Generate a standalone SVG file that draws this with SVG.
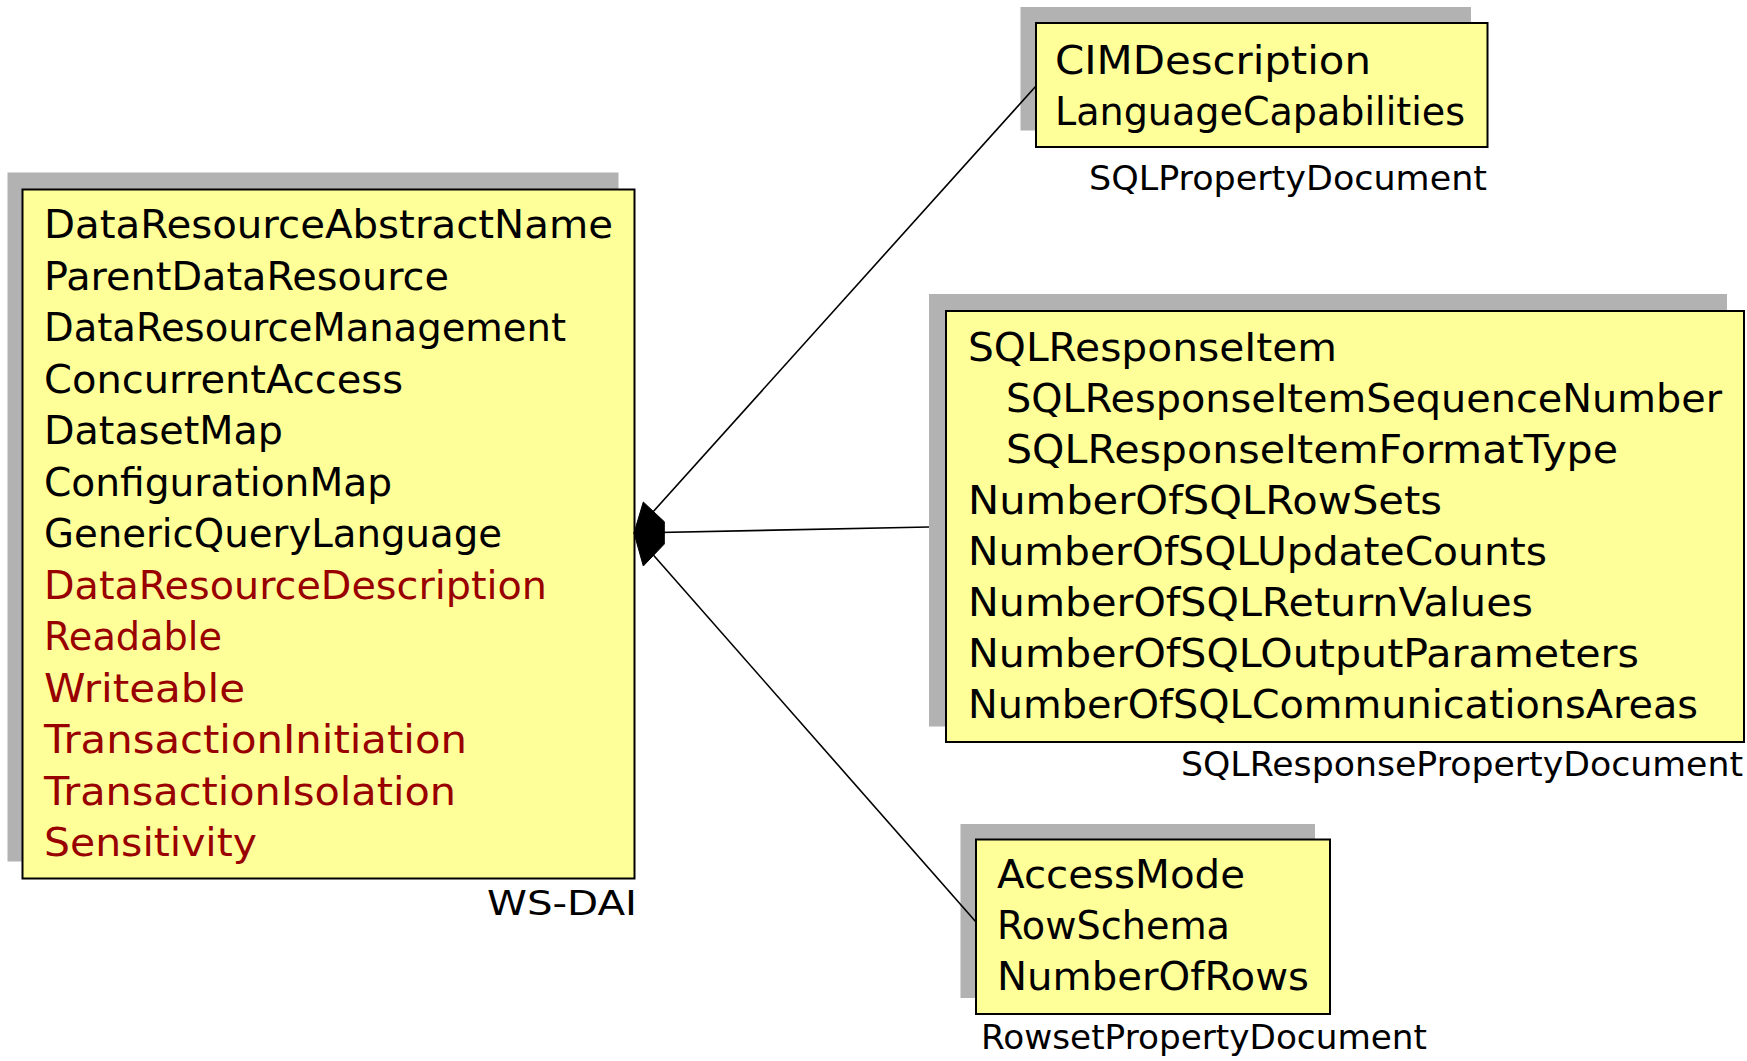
<svg xmlns="http://www.w3.org/2000/svg" width="1747" height="1061" viewBox="0 0 1747 1061">
<style>
.shadow{fill:#b2b2b2;stroke:none}
.box{fill:#ffff99;stroke:#000;stroke-width:2}
.t{font-family:"DejaVu Sans","Liberation Sans",sans-serif;font-size:39px;fill:#000}
.r{fill:#990000}
.lbl{font-family:"DejaVu Sans","Liberation Sans",sans-serif;font-size:33px;fill:#000}
.conn{stroke:#000;stroke-width:1.6;fill:none}
</style>
<rect width="1747" height="1061" fill="#fff"/>
<g id="ws-dai">
<rect class="shadow" x="7.5" y="172.5" width="611" height="689"/>
<rect class="box" x="22.5" y="189.5" width="612" height="689"/>
<text class="t" x="44" y="238" textLength="569" lengthAdjust="spacingAndGlyphs">DataResourceAbstractName</text>
<text class="t" x="44" y="289.5" textLength="405" lengthAdjust="spacingAndGlyphs">ParentDataResource</text>
<text class="t" x="44" y="341" textLength="522" lengthAdjust="spacingAndGlyphs">DataResourceManagement</text>
<text class="t" x="44" y="392.5" textLength="359" lengthAdjust="spacingAndGlyphs">ConcurrentAccess</text>
<text class="t" x="44" y="444" textLength="239" lengthAdjust="spacingAndGlyphs">DatasetMap</text>
<text class="t" x="44" y="495.5" textLength="348" lengthAdjust="spacingAndGlyphs">ConfigurationMap</text>
<text class="t" x="44" y="547" textLength="458" lengthAdjust="spacingAndGlyphs">GenericQueryLanguage</text>
<text class="t r" x="44" y="598.5" textLength="503" lengthAdjust="spacingAndGlyphs">DataResourceDescription</text>
<text class="t r" x="44" y="650" textLength="178" lengthAdjust="spacingAndGlyphs">Readable</text>
<text class="t r" x="44" y="701.5" textLength="201" lengthAdjust="spacingAndGlyphs">Writeable</text>
<text class="t r" x="44" y="753" textLength="423" lengthAdjust="spacingAndGlyphs">TransactionInitiation</text>
<text class="t r" x="44" y="804.5" textLength="412" lengthAdjust="spacingAndGlyphs">TransactionIsolation</text>
<text class="t r" x="44" y="856" textLength="213" lengthAdjust="spacingAndGlyphs">Sensitivity</text>
<text class="lbl" x="487" y="915" textLength="150" lengthAdjust="spacingAndGlyphs">WS-DAI</text>
</g>
<g id="sql-property-document">
<rect class="shadow" x="1020.5" y="7" width="450.5" height="123.5"/>
<rect class="box" x="1036" y="23" width="451.5" height="124"/>
<text class="t" x="1055" y="74" textLength="316" lengthAdjust="spacingAndGlyphs">CIMDescription</text>
<text class="t" x="1055" y="125" textLength="410" lengthAdjust="spacingAndGlyphs">LanguageCapabilities</text>
<text class="lbl" x="1089" y="190" textLength="398" lengthAdjust="spacingAndGlyphs">SQLPropertyDocument</text>
</g>
<g id="sql-response-property-document">
<rect class="shadow" x="929" y="294" width="798" height="432.5"/>
<rect class="box" x="946" y="311" width="798" height="431"/>
<text class="t" x="968" y="361" textLength="369" lengthAdjust="spacingAndGlyphs">SQLResponseItem</text>
<text class="t" x="1006" y="412" textLength="716" lengthAdjust="spacingAndGlyphs">SQLResponseItemSequenceNumber</text>
<text class="t" x="1006" y="463" textLength="612" lengthAdjust="spacingAndGlyphs">SQLResponseItemFormatType</text>
<text class="t" x="968" y="514" textLength="474" lengthAdjust="spacingAndGlyphs">NumberOfSQLRowSets</text>
<text class="t" x="968" y="565" textLength="579" lengthAdjust="spacingAndGlyphs">NumberOfSQLUpdateCounts</text>
<text class="t" x="968" y="616" textLength="565" lengthAdjust="spacingAndGlyphs">NumberOfSQLReturnValues</text>
<text class="t" x="968" y="667" textLength="671" lengthAdjust="spacingAndGlyphs">NumberOfSQLOutputParameters</text>
<text class="t" x="968" y="718" textLength="730" lengthAdjust="spacingAndGlyphs">NumberOfSQLCommunicationsAreas</text>
<text class="lbl" x="1181" y="776" textLength="562" lengthAdjust="spacingAndGlyphs">SQLResponsePropertyDocument</text>
</g>
<g id="rowset-property-document">
<rect class="shadow" x="960.5" y="824" width="354.5" height="174"/>
<rect class="box" x="976" y="839.5" width="354" height="174.5"/>
<text class="t" x="997" y="888" textLength="248" lengthAdjust="spacingAndGlyphs">AccessMode</text>
<text class="t" x="997" y="939" textLength="233" lengthAdjust="spacingAndGlyphs">RowSchema</text>
<text class="t" x="997" y="990" textLength="312" lengthAdjust="spacingAndGlyphs">NumberOfRows</text>
<text class="lbl" x="981" y="1049" textLength="446" lengthAdjust="spacingAndGlyphs">RowsetPropertyDocument</text>
</g>
<g id="connectors">
<line class="conn" x1="634" y1="533" x2="1036" y2="86"/>
<line class="conn" x1="634" y1="533" x2="929" y2="527"/>
<line class="conn" x1="634" y1="533" x2="976" y2="922"/>
<polygon points="634,533 643.3,502 664.3,521.7 664.3,544 643.3,566" fill="#000" stroke="#000" stroke-width="1"/>
</g>
</svg>
